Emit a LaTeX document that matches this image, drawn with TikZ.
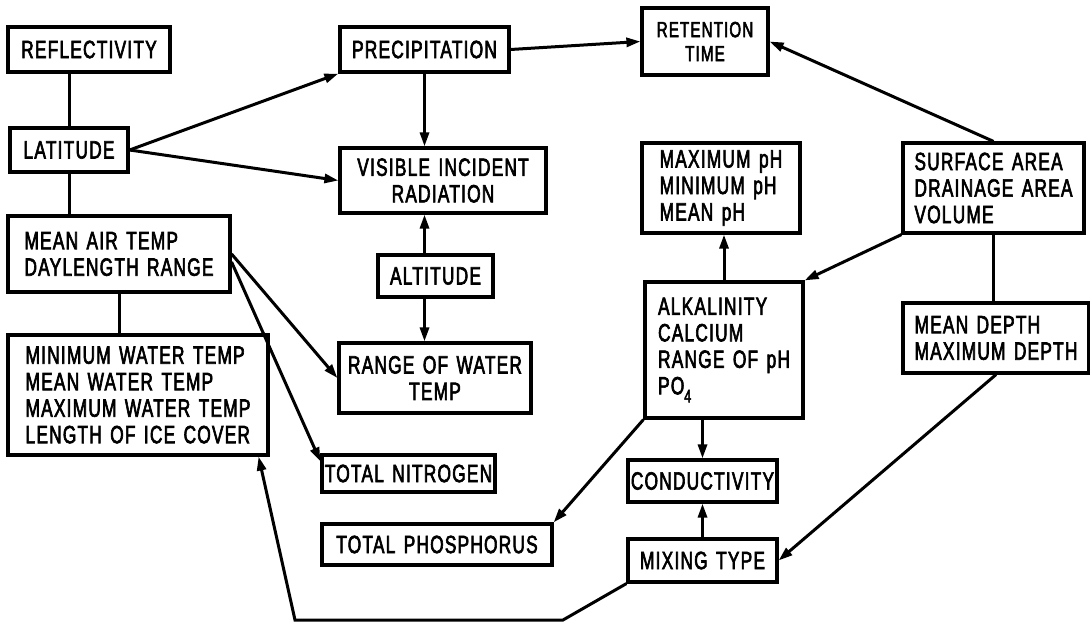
\documentclass[tikz,border=0pt]{standalone}
\usepackage{fontspec}
\setmainfont{Liberation Sans}[FakeStretch=0.69,FakeBold=2.5,LetterSpace=5,WordSpace=1.4]
\usetikzlibrary{arrows.meta}
\begin{document}
\begin{tikzpicture}[x=1pt,y=-1pt,
  box/.style={draw, line width=3.2pt, inner sep=0pt, align=center,
    font=\fontsize{25}{26.5}\selectfont},
  lbox/.style={box, align=left},
  link/.style={line width=3pt},
  arr/.style={link, -{Triangle[length=14pt,width=9pt]}},
]
\useasboundingbox (0,0) rectangle (1090,626);

% climate and geography column
\node[box, minimum width=162pt, minimum height=45pt] (refl) at (89,49.5) {REFLECTIVITY};
\node[box, minimum width=118pt, minimum height=44pt] (lat) at (69,150) {LATITUDE};
\node[lbox, minimum width=222pt, minimum height=76pt] (air) at (119,254) {MEAN AIR TEMP\\DAYLENGTH RANGE};
\node[lbox, minimum width=260pt, minimum height=120pt] (water) at (138,395)
  {MINIMUM WATER TEMP\\MEAN WATER TEMP\\MAXIMUM WATER TEMP\\LENGTH OF ICE COVER};

% middle column
\node[box, minimum width=169pt, minimum height=45pt] (prec) at (424.5,49.5) {PRECIPITATION};
\node[box, minimum width=206pt, minimum height=65pt] (vis) at (443,180.5) {VISIBLE INCIDENT\\RADIATION};
\node[box, minimum width=115pt, minimum height=42pt] (alt) at (435.5,276) {ALTITUDE};
\node[box, minimum width=192pt, minimum height=70pt] (range) at (435,378) {RANGE OF WATER\\TEMP};
\node[box, minimum width=173pt, minimum height=37pt] (nitro) at (408.5,473.5) {TOTAL NITROGEN};
\node[box, minimum width=230pt, minimum height=41pt] (phos) at (437,544.5) {TOTAL PHOSPHORUS};

% chemistry column
\node[box, minimum width=126pt, minimum height=67pt, font=\fontsize{22}{24}\selectfont] (ret) at (705,41.5) {RETENTION\\TIME};
\node[lbox, minimum width=158pt, minimum height=90pt] (maxph) at (721,188) {MAXIMUM pH\\MINIMUM pH\\MEAN pH};
\node[lbox, minimum width=158pt, minimum height=136pt] (alk) at (724,350)
  {ALKALINITY\\CALCIUM\\RANGE OF pH\\PO\raisebox{-8pt}{\fontsize{18}{18}\selectfont 4}};
\node[box, minimum width=149pt, minimum height=42pt] (cond) at (702.5,481) {CONDUCTIVITY};
\node[box, minimum width=149pt, minimum height=43pt] (mix) at (702.5,560.5) {MIXING TYPE};

% basin morphometry column
\node[lbox, minimum width=181pt, minimum height=90pt] (surf) at (993.5,188) {SURFACE AREA\\DRAINAGE AREA\\VOLUME};
\node[lbox, minimum width=186pt, minimum height=70pt] (depth) at (996,338) {MEAN DEPTH\\MAXIMUM DEPTH};

% plain links
\draw[link] (lat.north) -- (lat.north |- refl.south);
\draw[link] (lat.south) -- (lat.south |- air.north);
\draw[link] (air.south) -- (air.south |- water.north);
\draw[link] (surf.south) -- (surf.south |- depth.north);

% directed links
\draw[arr] (lat.east) -- (prec.south west);
\draw[arr] (lat.east) -- (vis.west);
\draw[arr] (prec.east) -- (ret.west);
\draw[arr] (prec.south) -- (prec.south |- vis.north);
\draw[arr] (surf.north) -- (ret.east);
\draw[arr] (prec.south |- alt.north) -- (prec.south |- vis.south);
\draw[arr] (prec.south |- alt.south) -- (prec.south |- range.north);
\draw[arr] (air.east) -- (range.west);
\draw[arr] ([yshift=-8pt]air.east) -- ([yshift=-8pt]nitro.north west);
\draw[arr] (alk.north) -- (alk.north |- maxph.south);
\draw[arr] (surf.south west) -- (alk.north east);
\draw[arr] (cond.north |- alk.south) -- (cond.north);
\draw[arr] (mix.north) -- (cond.south);
\draw[arr] (alk.south west) -- (phos.north east);
\draw[arr] (depth.south) -- (mix.east);

\coordinate (bend1) at (563,620);
\coordinate (bend2) at (295,620);
\draw[arr] (mix.south west) -- (bend1) -- (bend2) -- ([xshift=-11pt]water.south east);
\end{tikzpicture}
\end{document}
